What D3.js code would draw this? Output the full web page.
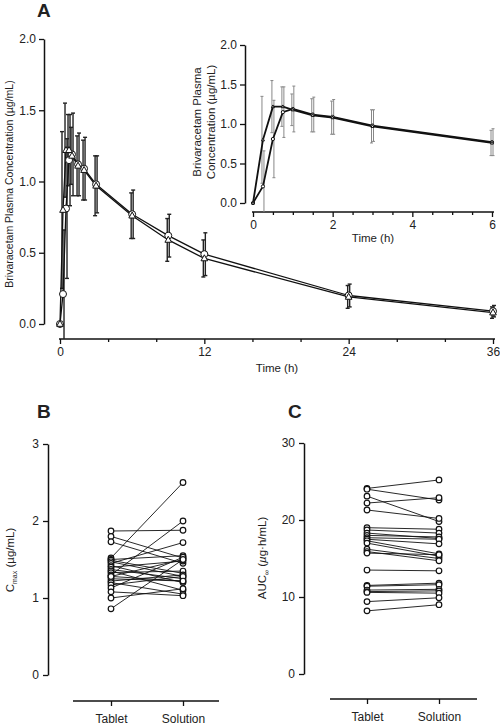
<!DOCTYPE html>
<html>
<head>
<meta charset="utf-8">
<script src="https://cdn.jsdelivr.net/npm/d3@7"></script>
<style>
  html, body { margin: 0; padding: 0; background: #fff; }
  svg { display: block; }
  text { font-family: "Liberation Sans", Arial, sans-serif; fill: #222; }
</style>
</head>
<body>
<svg id="chart" width="500" height="728"></svg>
<script>
// ---------- Data ----------
const times = [0, 0.25, 0.5, 0.75, 1, 1.5, 2, 3, 6, 9, 12, 24, 36];
const solutionMean = [0, 0.80, 1.22, 1.22, 1.18, 1.11, 1.08, 0.97, 0.76, 0.59, 0.46, 0.19, 0.08];
const solutionSD   = [0, 0.55, 0.33, 0.25, 0.20, 0.21, 0.21, 0.21, 0.16, 0.15, 0.13, 0.08, 0.04];
const tabletMean   = [0, 0.21, 0.81, 1.15, 1.19, 1.12, 1.09, 0.98, 0.77, 0.62, 0.49, 0.20, 0.09];
const tabletSD     = [0, 0.45, 0.49, 0.32, 0.29, 0.22, 0.22, 0.20, 0.17, 0.15, 0.15, 0.08, 0.04];

const mainYTicks = [0, 0.5, 1.0, 1.5, 2.0];
const mainXTickLabels = [0, 12, 24, 36];
const insetXTickLabels = [0, 2, 4, 6];
const formulations = ["Tablet", "Solution"];

const cmaxTablet   = [1.87, 1.80, 1.73, 1.52, 1.50, 1.49, 1.47, 1.45, 1.42, 1.40, 1.37, 1.35, 1.33, 1.30, 1.28, 1.25, 1.22, 1.20, 1.17, 1.13, 1.08, 1.00, 0.86, 1.28];
const cmaxSolution = [1.88, 1.52, 1.45, 2.50, 1.55, 1.32, 1.28, 1.72, 1.20, 1.48, 1.25, 1.10, 1.35, 2.00, 1.50, 1.22, 1.30, 1.05, 1.28, 1.53, 1.03, 1.12, 1.50, 1.22];
const cmaxTicks = [0, 1, 2, 3];

const aucTablet   = [24.1, 24.0, 23.1, 22.2, 21.3, 19.0, 18.7, 18.3, 18.0, 17.7, 17.5, 17.3, 17.0, 16.2, 15.9, 15.7, 13.5, 11.5, 11.4, 10.9, 10.7, 10.6, 9.4, 8.2];
const aucSolution = [25.2, 22.6, 19.8, 22.9, 20.2, 18.8, 18.3, 17.6, 17.8, 17.5, 16.9, 15.6, 15.3, 15.0, 14.7, 15.5, 13.4, 11.8, 11.6, 11.0, 10.8, 10.5, 9.9, 9.0];
const aucTicks = [0, 10, 20, 30];

// ---------- Helpers ----------
const svg = d3.select("#chart");
const series = [
  { name: "Tablet", mean: tabletMean, sd: tabletSD, shape: "circle", dx: 1 },
  { name: "Solution", mean: solutionMean, sd: solutionSD, shape: "triangle", dx: -1 }
];

function marker(g, shape, cx, cy, size) {
  if (shape === "circle") {
    g.append("circle").attr("cx", cx).attr("cy", cy).attr("r", size)
      .attr("fill", "#fff").attr("stroke", "#111").attr("stroke-width", 1);
  } else {
    const s = size * 0.95;
    g.append("path")
      .attr("d", `M${cx},${cy - s * 1.1} L${cx + s},${cy + s * 0.7} L${cx - s},${cy + s * 0.7} Z`)
      .attr("fill", "#fff").attr("stroke", "#111").attr("stroke-width", 1);
  }
}

function styleAxis(g, fontSize) {
  g.select(".domain").attr("stroke", "#111").attr("stroke-width", 1.5);
  g.selectAll(".tick line").attr("stroke", "#111").attr("stroke-width", 1.3);
  g.selectAll(".tick text").attr("font-size", fontSize).attr("fill", "#222")
    .attr("font-family", "'Liberation Sans', Arial, sans-serif");
}

function pkPlot(opts) {
  const { x, y, xAxisY, yAxisX, xMax, xMinorStep, xLabels, markerSize, lineW, errColor, errW, capW, maxT } = opts;
  const g = svg.append("g");
  const idx = times.map((t, i) => i).filter(i => times[i] <= maxT);

  const yAx = g.append("g").attr("transform", `translate(${yAxisX},0)`)
    .call(d3.axisLeft(y).tickValues(mainYTicks).tickFormat(d3.format(".1f")).tickSize(5).tickSizeOuter(0).tickPadding(3));
  styleAxis(yAx, 12);

  const minorTicks = d3.range(0, xMax + 0.001, xMinorStep);
  const xAx = g.append("g").attr("transform", `translate(0,${xAxisY})`)
    .call(d3.axisBottom(x).tickValues(minorTicks)
      .tickFormat(d => xLabels.some(v => Math.abs(v - d) < 1e-6) ? d3.format("d")(d) : "")
      .tickSize(4).tickSizeOuter(0).tickPadding(4));
  styleAxis(xAx, 12);
  xAx.select(".domain").attr("d", `M${x(0) - 1},0H${x(xMax) + 2}`);
  xAx.selectAll(".tick line").attr("y2", d => xLabels.some(v => Math.abs(v - d) < 1e-6) ? 5 : 3);

  series.forEach(s => {
    const eb = g.append("g").attr("stroke", errColor).attr("stroke-width", errW).attr("fill", "none");
    idx.forEach(i => {
      if (s.sd[i] <= 0) return;
      const cx = x(times[i]) + s.dx;
      const top = y(s.mean[i] + s.sd[i]);
      const bot = Math.min(y(s.mean[i] - s.sd[i]), xAxisY);
      eb.append("line").attr("x1", cx).attr("x2", cx).attr("y1", top).attr("y2", bot);
      eb.append("line").attr("x1", cx - capW).attr("x2", cx + capW).attr("y1", top).attr("y2", top);
      if (y(s.mean[i] - s.sd[i]) <= xAxisY)
        eb.append("line").attr("x1", cx - capW).attr("x2", cx + capW).attr("y1", bot).attr("y2", bot);
    });
  });

  const line = d3.line().x(i => x(times[i]));
  series.forEach(s => {
    g.append("path").datum(idx)
      .attr("d", line.y(i => y(s.mean[i])))
      .attr("fill", "none").attr("stroke", "#111").attr("stroke-width", lineW)
      .attr("stroke-linejoin", "round");
  });

  series.forEach(s => {
    const mg = g.append("g");
    idx.forEach(i => marker(mg, s.shape, x(times[i]), y(s.mean[i]), markerSize));
  });
  return g;
}

// ---------- Panel A (main) ----------
const xMain = d3.scaleLinear().domain([0, 36]).range([60, 493]);
const yMain = d3.scaleLinear().domain([0, 2]).range([324, 39]);
pkPlot({ x: xMain, y: yMain, xAxisY: 339, yAxisX: 44, xMax: 36, xMinorStep: 4, xLabels: mainXTickLabels,
  markerSize: 3.5, lineW: 1.3, errColor: "#222", errW: 1.4, capW: 2, maxT: 36 });

svg.append("text").attr("x", 37).attr("y", 17).attr("font-size", 19).attr("font-weight", "bold")
  .attr("fill", "#111").text("A");
svg.append("text").attr("transform", "translate(13,184) rotate(-90)").attr("text-anchor", "middle")
  .attr("font-size", 10.5).text("Brivaracetam Plasma Concentration (µg/mL)");
svg.append("text").attr("x", 277).attr("y", 372).attr("text-anchor", "middle")
  .attr("font-size", 11.5).text("Time (h)");

// ---------- Panel A (inset) ----------
const xIn = d3.scaleLinear().domain([0, 6]).range([253, 492]);
const yIn = d3.scaleLinear().domain([0, 2]).range([203, 45]);
pkPlot({ x: xIn, y: yIn, xAxisY: 212, yAxisX: 245, xMax: 6, xMinorStep: 0.5, xLabels: insetXTickLabels,
  markerSize: 1.6, lineW: 1.8, errColor: "#888", errW: 1, capW: 1.5, maxT: 6 });

svg.append("text").attr("transform", "translate(201,122) rotate(-90)").attr("text-anchor", "middle")
  .attr("font-size", 11.5).text("Brivaracetam Plasma");
svg.append("text").attr("transform", "translate(215,122) rotate(-90)").attr("text-anchor", "middle")
  .attr("font-size", 11.5).text("Concentration (µg/mL)");
svg.append("text").attr("x", 373).attr("y", 242).attr("text-anchor", "middle")
  .attr("font-size", 11.5).text("Time (h)");

// ---------- Paired plots ----------
function pairedPlot(opts) {
  const { y, ticks, yAxisX, axisY, xRange, lineRange, a, b } = opts;
  const g = svg.append("g");
  const x = d3.scalePoint().domain(formulations).range(xRange);

  const yAx = g.append("g").attr("transform", `translate(${yAxisX},0)`)
    .call(d3.axisLeft(y).tickValues(ticks).tickFormat(d3.format("d")).tickSize(5).tickSizeOuter(0).tickPadding(4));
  styleAxis(yAx, 12);

  const xAx = g.append("g").attr("transform", `translate(0,${axisY})`)
    .call(d3.axisBottom(x).tickSize(5).tickSizeOuter(0).tickPadding(8));
  styleAxis(xAx, 12);
  xAx.select(".domain").attr("d", `M${lineRange[0]},0H${lineRange[1]}`);

  a.forEach((v, i) => {
    g.append("line").attr("x1", x("Tablet")).attr("y1", y(v))
      .attr("x2", x("Solution")).attr("y2", y(b[i]))
      .attr("stroke", "#111").attr("stroke-width", 0.9);
  });
  [["Tablet", a], ["Solution", b]].forEach(([k, arr]) => {
    arr.forEach(v => {
      g.append("circle").attr("cx", x(k)).attr("cy", y(v)).attr("r", 2.8)
        .attr("fill", "#fff").attr("stroke", "#111").attr("stroke-width", 1.2);
    });
  });
  return g;
}

// Panel B
const yB = d3.scaleLinear().domain([0, 3]).range([675, 444]);
pairedPlot({ y: yB, ticks: cmaxTicks, yAxisX: 48, axisY: 701, xRange: [111, 183], lineRange: [73, 219],
  a: cmaxTablet, b: cmaxSolution });
svg.append("text").attr("x", 37).attr("y", 418).attr("font-size", 19).attr("font-weight", "bold")
  .attr("fill", "#111").text("B");
const bLab = svg.append("text").attr("transform", "translate(14,560) rotate(-90)").attr("text-anchor", "middle")
  .attr("font-size", 11.5);
bLab.append("tspan").text("C");
bLab.append("tspan").attr("font-size", 7).attr("dy", 3).text("max");
bLab.append("tspan").attr("dy", -3).text(" (µg/mL)");

// Panel C
const yC = d3.scaleLinear().domain([0, 30]).range([674, 443]);
pairedPlot({ y: yC, ticks: aucTicks, yAxisX: 304, axisY: 699, xRange: [367, 439], lineRange: [330, 477],
  a: aucTablet, b: aucSolution });
svg.append("text").attr("x", 288).attr("y", 418).attr("font-size", 19).attr("font-weight", "bold")
  .attr("fill", "#111").text("C");
const cLab = svg.append("text").attr("transform", "translate(266,558) rotate(-90)").attr("text-anchor", "middle")
  .attr("font-size", 11.5);
cLab.append("tspan").text("AUC");
cLab.append("tspan").attr("font-size", 7).attr("dy", 3).text("∞");
cLab.append("tspan").attr("dy", -3).text(" (");
cLab.append("tspan").attr("font-style", "italic").text("µ");
cLab.append("tspan").text("g·h/mL)");
</script>
</body>
</html>
